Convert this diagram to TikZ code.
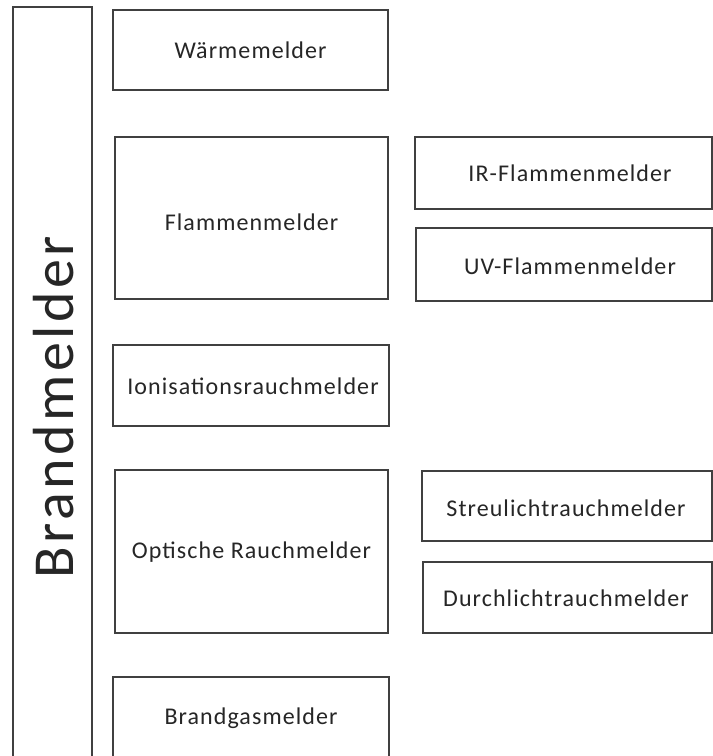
\documentclass[tikz,border=0pt]{standalone}
\usepackage{fontspec}
\setmainfont{Carlito}
\newfontfamily\lblfont[LetterSpace=4.5]{Carlito}
\newfontfamily\bigfont[LetterSpace=6]{Carlito}
\begin{document}
\begin{tikzpicture}[x=1pt,y=-1pt,
  box/.style={draw=black!75,line width=1.4pt,fill=white},
  lbl/.style={font=\lblfont\fontsize{24}{28}\selectfont,text=black!85,inner sep=0pt}]
\useasboundingbox[fill=white] (0,0) rectangle (713,756);
% big left box
\draw[box] (13,7) rectangle (92,790);
\node[lbl,font=\bigfont\fontsize{58}{64}\selectfont,rotate=90] (brand) at (54,407) {Brandmelder};
% column 1
\draw[box] (113,10) rectangle (388,90);
\node[lbl] (waerme) at (250.5,50) {Wärmemelder};
\draw[box] (115,137) rectangle (388,299);
\node[lbl] (flamme) at (251.5,222) {Flammenmelder};
\draw[box] (113,345) rectangle (389,426);
\node[lbl] (ion) at (253,386) {Ionisationsrauchmelder};
\draw[box] (115,470) rectangle (388,633);
\node[lbl] (opt) at (251.5,552) {Optische Rauchmelder};
\draw[box] (113,677) rectangle (389,790);
\node[lbl] (gas) at (251,718) {Brandgasmelder};
% column 2
\draw[box] (415,137) rectangle (712,209);
\node[lbl] (ir) at (570,173) {IR-Flammenmelder};
\draw[box] (416,228) rectangle (712,301);
\node[lbl] (uv) at (570,266) {UV-Flammenmelder};
\draw[box] (422,471) rectangle (712,541);
\node[lbl] (streu) at (566,508) {Streulichtrauchmelder};
\draw[box] (423,562) rectangle (712,633);
\node[lbl] (durch) at (566,598) {Durchlichtrauchmelder};
\end{tikzpicture}
\end{document}
